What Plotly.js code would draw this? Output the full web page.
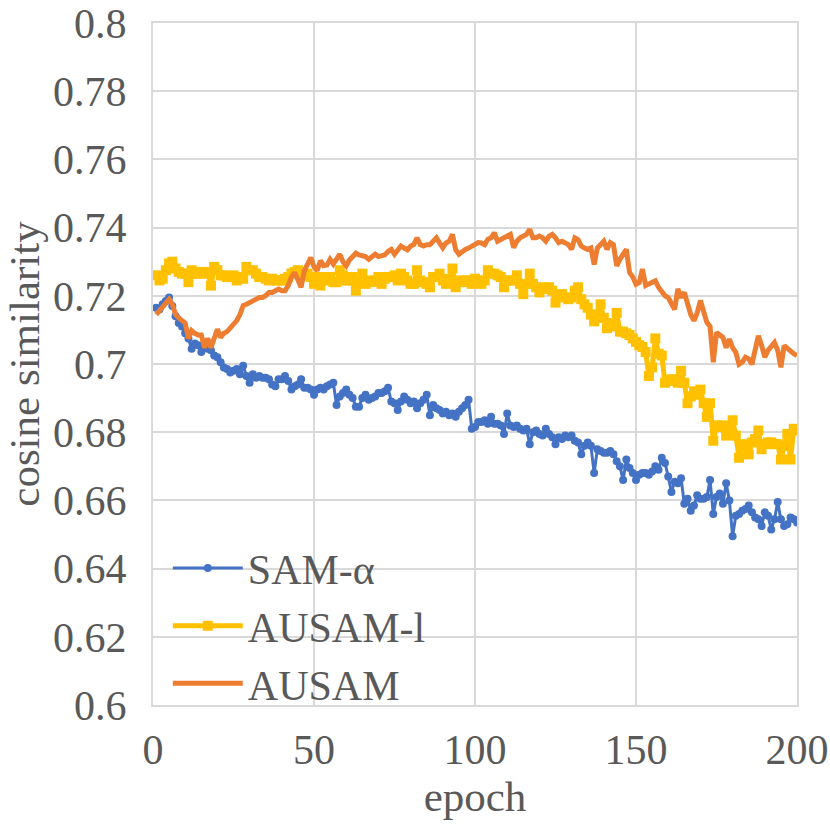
<!DOCTYPE html>
<html>
<head>
<meta charset="utf-8">
<script src="https://cdn.plot.ly/plotly-3.0.1.min.js"></script>
<style>html,body{margin:0;padding:0;background:#fff;}#chart{width:830px;height:830px;}</style>
</head>
<body>
<div id="chart"></div>
<script>
// SAM-α (epochs 1..200)
const samAlpha = [
0.7165,0.716,0.7175,0.7185,0.7195,0.717,0.714,0.712,0.711,0.709,
0.7075,0.7045,0.706,0.7055,0.7035,0.705,0.7045,0.704,0.7025,0.702,
0.7005,0.699,0.6985,0.6975,0.698,0.6985,0.697,0.6995,0.6965,0.6945,
0.697,0.696,0.6965,0.696,0.696,0.6955,0.694,0.6935,0.6955,0.6955,
0.6965,0.695,0.6925,0.6935,0.694,0.6955,0.693,0.693,0.6925,0.691,
0.6925,0.693,0.6925,0.6935,0.694,0.6945,0.688,0.6905,0.6915,0.6925,
0.691,0.69,0.6875,0.6875,0.69,0.691,0.6895,0.69,0.6905,0.6915,
0.6915,0.692,0.693,0.689,0.6885,0.6865,0.689,0.6905,0.6895,0.6885,
0.689,0.687,0.6885,0.6895,0.691,0.685,0.688,0.687,0.6865,0.6855,
0.686,0.685,0.6855,0.6845,0.686,0.687,0.688,0.6895,0.681,0.6815,
0.683,0.683,0.6835,0.6825,0.6845,0.6825,0.6825,0.682,0.6795,0.6855,
0.682,0.6815,0.682,0.681,0.6805,0.681,0.6765,0.68,0.6805,0.6795,
0.679,0.681,0.6795,0.6785,0.6765,0.6785,0.678,0.679,0.6785,0.679,
0.6775,0.677,0.6735,0.676,0.677,0.676,0.668,0.675,0.6745,0.674,
0.674,0.6745,0.6735,0.6715,0.67,0.666,0.672,0.6695,0.668,0.666,
0.6675,0.668,0.668,0.6675,0.6685,0.670,0.669,0.6725,0.671,0.667,
0.6625,0.6655,0.665,0.6665,0.659,0.6605,0.657,0.6585,0.6615,0.6605,
0.6605,0.661,0.666,0.656,0.661,0.662,0.659,0.665,0.660,0.6495,
0.6555,0.656,0.657,0.6575,0.6585,0.6565,0.655,0.6545,0.6525,0.6565,
0.6555,0.6515,0.6545,0.6595,0.6545,0.6525,0.653,0.655,0.6545,0.6535
];
// AUSAM-l
const ausamL = [
0.726,0.7245,0.725,0.7275,0.7295,0.730,0.728,0.727,0.7265,0.7265,
0.724,0.7275,0.7265,0.7265,0.727,0.7265,0.727,0.723,0.7285,0.7275,
0.726,0.726,0.7255,0.7255,0.726,0.7245,0.7255,0.725,0.7285,0.7275,
0.7275,0.7265,0.7255,0.7255,0.725,0.7245,0.725,0.7245,0.7245,0.7245,
0.725,0.7255,0.7265,0.727,0.7275,0.726,0.726,0.7265,0.7255,0.7235,
0.7255,0.723,0.7255,0.7245,0.7255,0.724,0.724,0.7275,0.726,0.7245,
0.7245,0.7255,0.7215,0.724,0.7265,0.7235,0.7245,0.724,0.7245,0.7255,
0.7235,0.725,0.7255,0.7255,0.726,0.7245,0.7265,0.7255,0.7245,0.7235,
0.7235,0.7275,0.7245,0.724,0.7235,0.7225,0.7255,0.7255,0.7265,0.7245,
0.7235,0.725,0.728,0.7225,0.7245,0.724,0.7245,0.7245,0.7235,0.725,
0.7245,0.7235,0.7245,0.7275,0.7265,0.7265,0.726,0.7255,0.7225,0.7245,
0.7245,0.7245,0.726,0.7235,0.7205,0.7235,0.7265,0.7235,0.7225,0.721,
0.7225,0.722,0.7225,0.7215,0.718,0.72,0.7205,0.7195,0.719,0.7195,
0.7215,0.7225,0.719,0.7175,0.7165,0.7145,0.7125,0.7145,0.7175,0.7135,
0.7105,0.711,0.712,0.715,0.7095,0.7095,0.709,0.7085,0.7075,0.7065,
0.7055,0.705,0.7035,0.6965,0.699,0.7075,0.703,0.7025,0.6945,0.695,
0.6955,0.6955,0.6945,0.698,0.6945,0.6885,0.6905,0.692,0.691,0.6925,
0.6885,0.6845,0.6885,0.6775,0.682,0.6815,0.682,0.679,0.6805,0.6835,
0.679,0.6725,0.6765,0.6755,0.6735,0.677,0.678,0.6805,0.675,0.6765,
0.677,0.677,0.6765,0.6765,0.672,0.676,0.6795,0.672,0.681,0.6805
];
// AUSAM
const ausam = [
0.7145,0.7155,0.7165,0.7175,0.719,0.7175,0.7145,0.7135,0.7125,0.712,
0.7075,0.7098,0.709,0.7085,0.7085,0.7048,0.7075,0.7048,0.7075,0.7102,
0.7078,0.709,0.7095,0.7107,0.712,0.7127,0.7145,0.7171,0.7175,0.718,
0.7185,0.719,0.7195,0.7195,0.72,0.721,0.721,0.7215,0.722,0.7215,
0.7215,0.723,0.7255,0.7268,0.7245,0.7225,0.7274,0.729,0.7312,0.7285,
0.7274,0.7303,0.7288,0.729,0.7307,0.7293,0.731,0.7322,0.730,0.7288,
0.7305,0.7315,0.7325,0.732,0.7317,0.7315,0.7307,0.7315,0.7322,0.7315,
0.7317,0.732,0.733,0.7336,0.7322,0.7335,0.7346,0.734,0.7335,0.7346,
0.735,0.737,0.735,0.7346,0.735,0.735,0.736,0.737,0.7355,0.7341,
0.7355,0.736,0.738,0.7335,0.7322,0.733,0.7336,0.734,0.7346,0.735,
0.7356,0.7355,0.735,0.7366,0.737,0.7385,0.736,0.7365,0.737,0.7375,
0.738,0.7341,0.736,0.737,0.7375,0.738,0.7395,0.737,0.737,0.7375,
0.737,0.736,0.7375,0.738,0.737,0.7356,0.736,0.7356,0.735,0.7336,
0.737,0.7365,0.7346,0.734,0.7336,0.734,0.7292,0.734,0.735,0.736,
0.7336,0.7356,0.735,0.7288,0.7307,0.732,0.7336,0.7268,0.7255,0.7234,
0.7239,0.7278,0.723,0.7235,0.724,0.7244,0.7225,0.721,0.72,0.7195,
0.718,0.716,0.722,0.7195,0.721,0.717,0.7145,0.7127,0.715,0.7186,
0.715,0.7122,0.711,0.7005,0.7092,0.7085,0.7078,0.7048,0.7073,0.7048,
0.7034,0.6999,0.7005,0.702,0.7015,0.6999,0.7043,0.7083,0.7055,0.702,
0.704,0.7054,0.7063,0.704,0.699,0.7054,0.7045,0.7034,0.703,0.7025
];
const seriesNames = ['SAM-α', 'AUSAM-l', 'AUSAM'];
const xTicks = [0, 50, 100, 150, 200];
const yTicks = [0.6, 0.62, 0.64, 0.66, 0.68, 0.7, 0.72, 0.74, 0.76, 0.78, 0.8];
const yTickText = ['0.6','0.62','0.64','0.66','0.68','0.7','0.72','0.74','0.76','0.78','0.8'];
const epochs = samAlpha.map((_, i) => i + 1);

const FONT = 'Liberation Serif, Times New Roman, serif';
const TXT = '#595959';
const GRID = '#d9d9d9';

const traces = [
  {x: epochs, y: samAlpha, name: seriesNames[0], type: 'scatter', mode: 'lines+markers',
   line: {color: '#4472C4', width: 3}, marker: {color: '#4472C4', size: 8, symbol: 'circle'}},
  {x: epochs, y: ausamL, name: seriesNames[1], type: 'scatter', mode: 'lines+markers',
   line: {color: '#FFC000', width: 5}, marker: {color: '#FFC000', size: 10, symbol: 'square'}},
  {x: epochs, y: ausam, name: seriesNames[2], type: 'scatter', mode: 'lines',
   line: {color: '#ED7D31', width: 5}}
];

const layout = {
  width: 830, height: 830,
  margin: {l: 153, r: 33, t: 23, b: 125},
  paper_bgcolor: '#fff', plot_bgcolor: '#fff',
  font: {family: FONT, color: TXT, size: 42},
  showlegend: true,
  legend: {x: 0.023, y: -0.018, xanchor: 'left', yanchor: 'bottom', bgcolor: 'rgba(255,255,255,0)',
           font: {family: FONT, size: 42, color: TXT}, itemwidth: 70, tracegroupgap: 0},
  xaxis: {range: [0, 200], tickvals: xTicks, ticktext: xTicks.map(String),
          showgrid: true, gridcolor: GRID, gridwidth: 2, zeroline: false,
          showline: true, linecolor: GRID, linewidth: 2, mirror: true,
          ticks: 'outside', ticklen: 7, tickcolor: 'rgba(0,0,0,0)',
          ticklabeloverflow: 'allow',
          tickfont: {family: FONT, size: 42, color: TXT},
          title: {text: 'epoch', font: {family: FONT, size: 43, color: TXT}, standoff: 0}},
  yaxis: {range: [0.6, 0.8], tickvals: yTicks, ticktext: yTickText,
          showgrid: true, gridcolor: GRID, gridwidth: 2, zeroline: false,
          showline: true, linecolor: GRID, linewidth: 2, mirror: true,
          ticks: 'outside', ticklen: 16, tickcolor: 'rgba(0,0,0,0)',
          ticklabeloverflow: 'allow',
          tickfont: {family: FONT, size: 42, color: TXT},
          title: {text: 'cosine similarity', font: {family: FONT, size: 43, color: TXT}, standoff: 0}}
};

Plotly.newPlot('chart', traces, layout, {displayModeBar: false, staticPlot: true});
</script>
</body>
</html>
